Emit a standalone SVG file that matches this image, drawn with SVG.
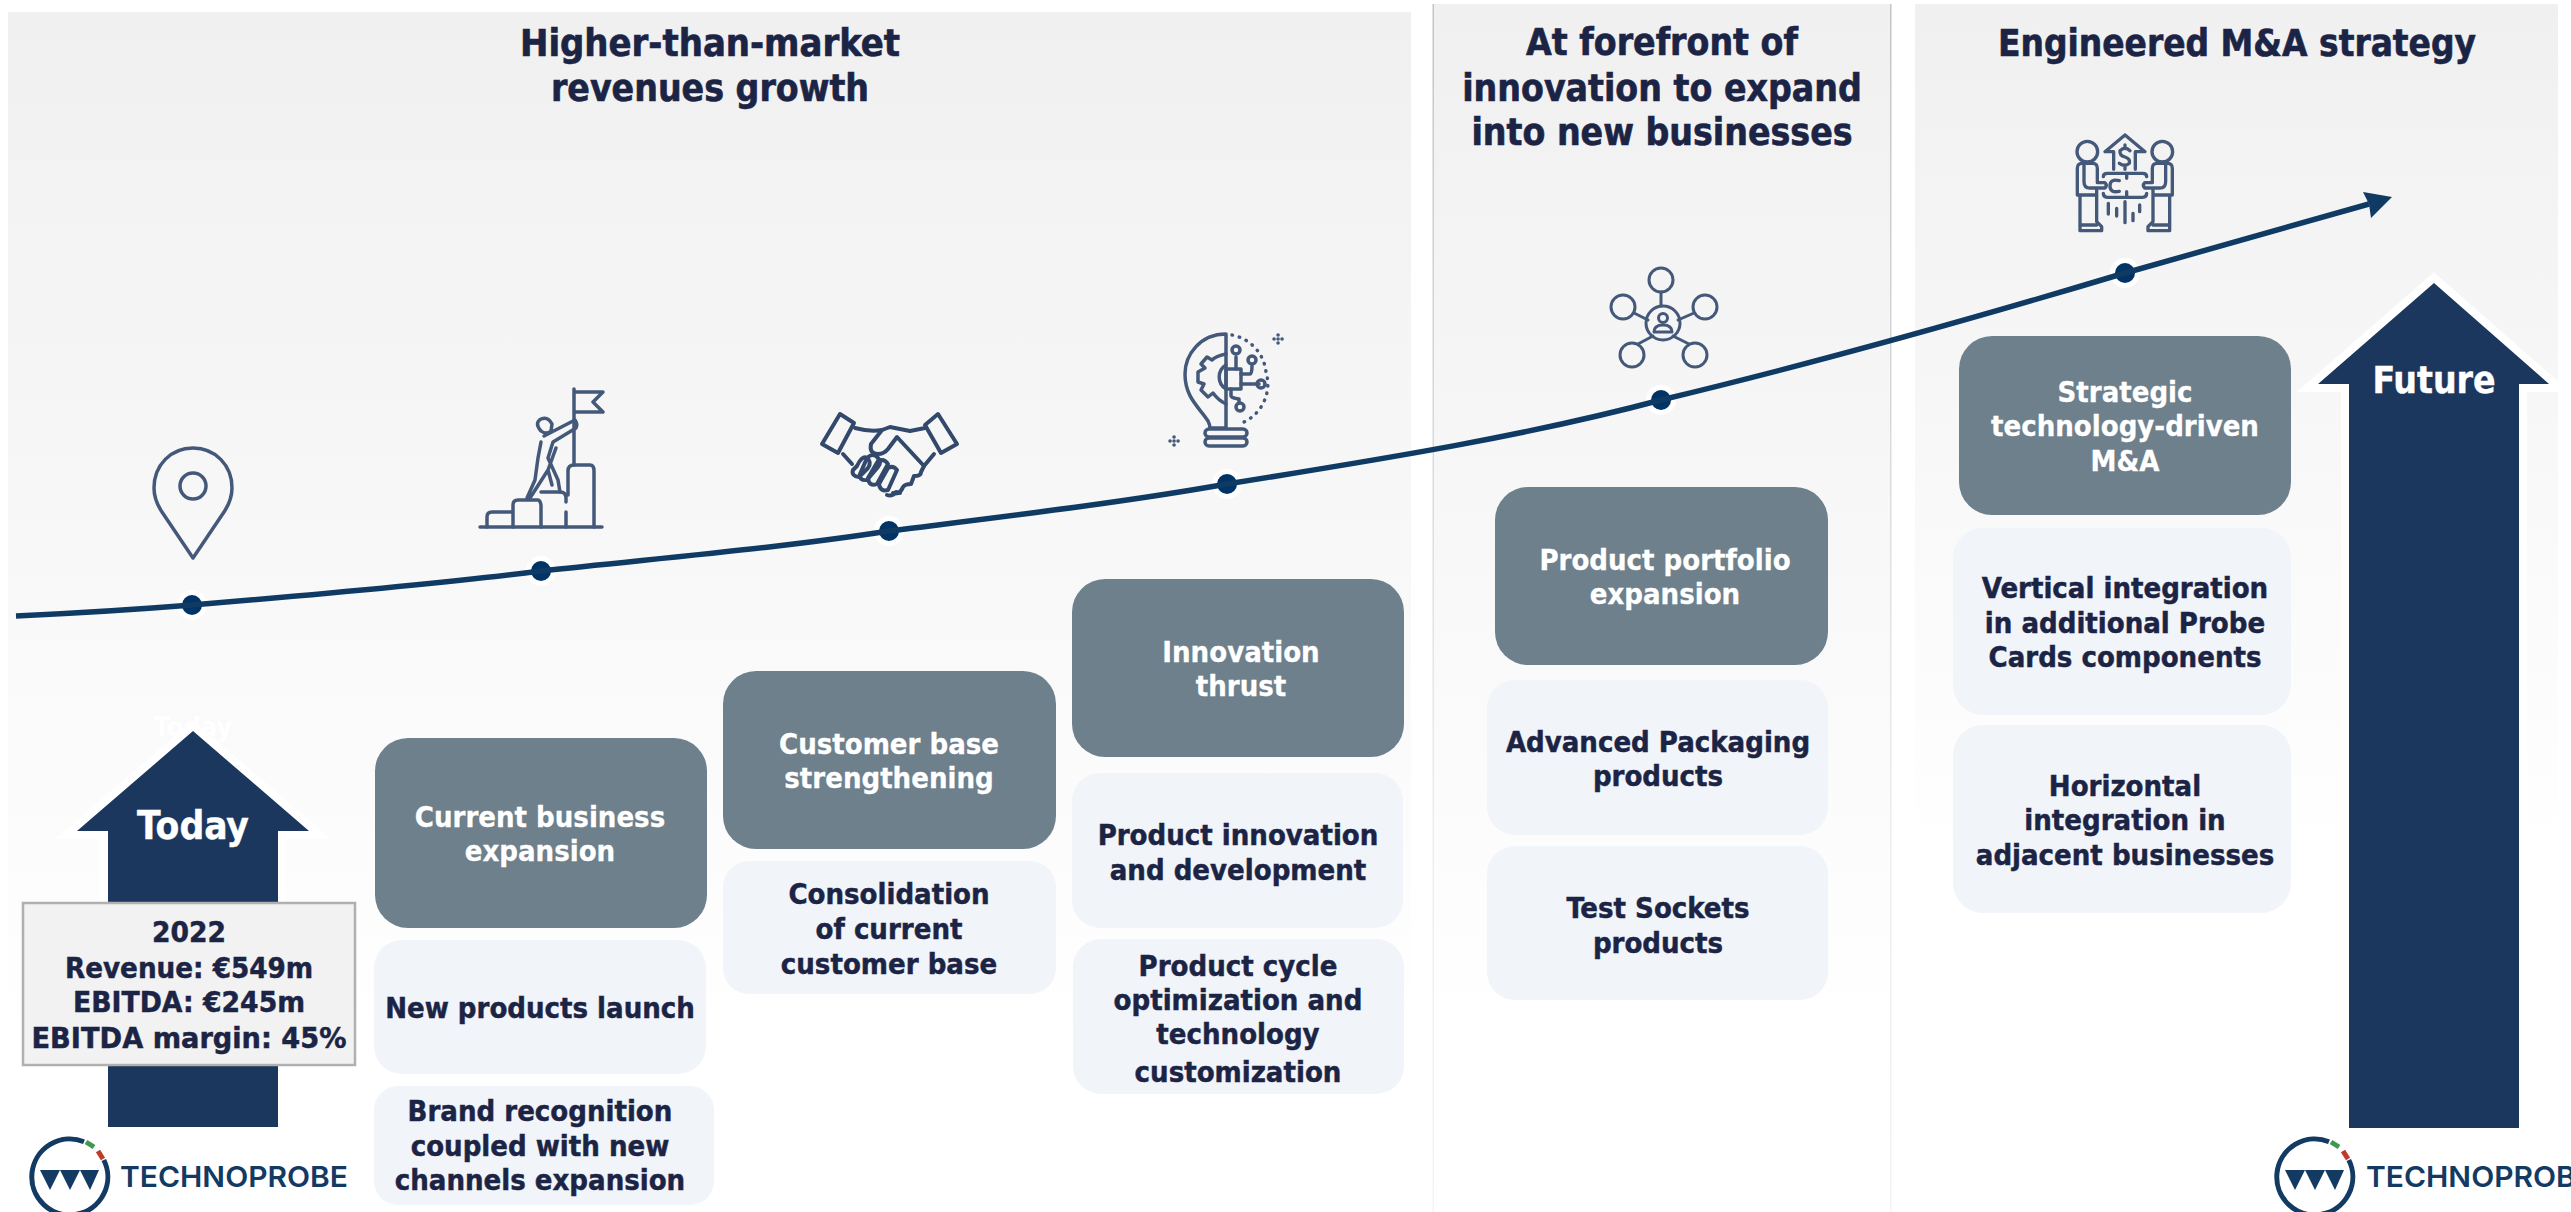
<svg xmlns="http://www.w3.org/2000/svg" width="2571" height="1212" viewBox="0 0 2571 1212">
<style>
text{font-family:"DejaVu Sans","Liberation Sans",sans-serif;font-weight:700;font-stretch:condensed;text-anchor:middle}
.t{font-size:37px;fill:#1c2445;stroke:#1c2445;stroke-width:.6}
.b{font-size:29px;fill:#1c2445;stroke:#1c2445;stroke-width:.45}
.w{font-size:29px;fill:#fff;stroke:#fff;stroke-width:.3}
.a{font-size:37px;fill:#fff;stroke:#fff;stroke-width:.4}
.hd{fill:#6e808c}
.lt{fill:#f1f4f8}
.ic{fill:none;stroke:#44597a;stroke-width:3.5;stroke-linecap:round;stroke-linejoin:round}
.halo{fill:#fff}
.dot{fill:#003366}
.lg{font-family:"Inter","Liberation Sans",sans-serif;font-weight:600;font-size:29px;fill:#123a63;text-anchor:start;font-stretch:normal;stroke:none}
.arr{fill:#1b375d;stroke:#fff;stroke-width:16;paint-order:stroke}
</style>
<defs>
<linearGradient id="bg" x1="0" y1="0" x2="0" y2="1"><stop offset="0" stop-color="#f0f0f0"/><stop offset="0.85" stop-color="#ffffff"/></linearGradient>
<linearGradient id="ln" x1="0" y1="0" x2="0" y2="1"><stop offset="0" stop-color="#c2c4c6"/><stop offset="0.7" stop-color="#eceef0"/><stop offset="1" stop-color="#f3f4f5"/></linearGradient>
<g id="logo">
<path d="M14 -35.3A38 38 0 1 0 33.8 -17" fill="none" stroke="#123a63" stroke-width="5"/>
<path d="M16 -35L24 -30" stroke="#3d9a4f" stroke-width="5" fill="none"/>
<path d="M28 -26L33 -18" stroke="#c0392b" stroke-width="5" fill="none"/>
<path d="M-30 -7H29L20 13L10 -7L0 13L-10 -7L-20 13Z" fill="#123a63"/>
</g>
</defs>
<rect width="2571" height="1212" fill="#fff"/>
<g id="panels">
<rect x="8" y="12" width="1403" height="1200" fill="url(#bg)"/>
<rect x="1433" y="4" width="458" height="1208" fill="url(#bg)"/>
<rect x="1432.5" y="4" width="1.5" height="1208" fill="url(#ln)"/>
<rect x="1890" y="4" width="1.5" height="1208" fill="url(#ln)"/>
<rect x="1915" y="4" width="643" height="1000" fill="url(#bg)"/>
</g>
<g id="titles">
<text class="t" x="710" y="56" textLength="380" lengthAdjust="spacingAndGlyphs">Higher-than-market</text>
<text class="t" x="710" y="101">revenues growth</text>
<text class="t" x="1662" y="55">At forefront of</text>
<text class="t" x="1662" y="101">innovation to expand</text>
<text class="t" x="1662" y="145">into new businesses</text>
<text class="t" x="2237" y="56" textLength="478" lengthAdjust="spacingAndGlyphs">Engineered M&amp;A strategy</text>
</g>
<g id="today-arrow">
<text x="193" y="736" style="font-size:27px;fill:#fff">Today</text>
<path class="arr" d="M193 731L309 831H278V1127H108V831H77Z"/>
<text class="a" x="193" y="839" style="font-size:38.5px">Today</text>
</g>
<g id="today-box">
<rect x="23" y="903" width="332" height="162" fill="#f2f2f2" stroke="#b0b0b0" stroke-width="2.5"/>
<text class="b" x="189" y="942" textLength="74" lengthAdjust="spacingAndGlyphs">2022</text>
<text class="b" x="189" y="978" textLength="248" lengthAdjust="spacingAndGlyphs">Revenue: €549m</text>
<text class="b" x="189" y="1012" textLength="232" lengthAdjust="spacingAndGlyphs">EBITDA: €245m</text>
<text class="b" x="189" y="1048" textLength="315" lengthAdjust="spacingAndGlyphs">EBITDA margin: 45%</text>
</g>
<g id="n1"><rect class="hd" x="375" y="738" width="332" height="190" rx="33"/><text class="w" x="540" y="827">Current business</text><text class="w" x="540" y="861">expansion</text></g>
<g id="n1a"><rect class="lt" x="374" y="940" width="332" height="134" rx="28"/><text class="b" x="540" y="1018">New products launch</text></g>
<g id="n1b"><rect class="lt" x="374" y="1086" width="340" height="119" rx="24"/><text class="b" x="540" y="1121">Brand recognition</text><text class="b" x="540" y="1156">coupled with new</text><text class="b" x="540" y="1190">channels expansion</text></g>
<g id="n2"><rect class="hd" x="723" y="671" width="333" height="178" rx="33"/><text class="w" x="889" y="754">Customer base</text><text class="w" x="889" y="788">strengthening</text></g>
<g id="n2a"><rect class="lt" x="723" y="861" width="333" height="133" rx="26"/><text class="b" x="889" y="904">Consolidation</text><text class="b" x="889" y="939">of current</text><text class="b" x="889" y="974">customer base</text></g>
<g id="n3"><rect class="hd" x="1072" y="579" width="332" height="178" rx="33"/><text class="w" x="1241" y="662">Innovation</text><text class="w" x="1241" y="696">thrust</text></g>
<g id="n3a"><rect class="lt" x="1072" y="773" width="331" height="155" rx="28"/><text class="b" x="1238" y="845">Product innovation</text><text class="b" x="1238" y="880">and development</text></g>
<g id="n3b"><rect class="lt" x="1073" y="939" width="331" height="155" rx="28"/><text class="b" x="1238" y="976">Product cycle</text><text class="b" x="1238" y="1010">optimization and</text><text class="b" x="1238" y="1044">technology</text><text class="b" x="1238" y="1082">customization</text></g>
<g id="n4"><rect class="hd" x="1495" y="487" width="333" height="178" rx="33"/><text class="w" x="1665" y="570">Product portfolio</text><text class="w" x="1665" y="604">expansion</text></g>
<g id="n4a"><rect class="lt" x="1487" y="680" width="341" height="155" rx="28"/><text class="b" x="1658" y="752">Advanced Packaging</text><text class="b" x="1658" y="786">products</text></g>
<g id="n4b"><rect class="lt" x="1487" y="846" width="341" height="154" rx="28"/><text class="b" x="1658" y="918">Test Sockets</text><text class="b" x="1658" y="953">products</text></g>
<g id="n5"><rect class="hd" x="1959" y="336" width="332" height="179" rx="33"/><text class="w" x="2125" y="402">Strategic</text><text class="w" x="2125" y="436">technology-driven</text><text class="w" x="2125" y="471">M&amp;A</text></g>
<g id="n5a"><rect class="lt" x="1953" y="528" width="338" height="187" rx="30"/><text class="b" x="2125" y="598">Vertical integration</text><text class="b" x="2125" y="633">in additional Probe</text><text class="b" x="2125" y="667">Cards components</text></g>
<g id="n5b"><rect class="lt" x="1953" y="725" width="338" height="188" rx="30"/><text class="b" x="2125" y="796">Horizontal</text><text class="b" x="2125" y="830">integration in</text><text class="b" x="2125" y="865">adjacent businesses</text></g>
<g id="connectors">
<circle class="halo" cx="192" cy="605" r="15"/><circle class="halo" cx="541" cy="571" r="15"/><circle class="halo" cx="889" cy="531" r="15"/><circle class="halo" cx="1227" cy="484" r="15"/><circle class="halo" cx="1661" cy="400" r="15"/><circle class="halo" cx="2125" cy="273" r="15"/>
<circle class="dot" cx="192" cy="605" r="10"/><circle class="dot" cx="541" cy="571" r="10"/><circle class="dot" cx="889" cy="531" r="10"/><circle class="dot" cx="1227" cy="484" r="10"/><circle class="dot" cx="1661" cy="400" r="10"/><circle class="dot" cx="2125" cy="273" r="10"/>
<path d="M16 616C80 613 130 610 192 605C300 596 430 585 541 571C660 558 780 548 889 531C1000 517 1120 503 1227 484C1390 458 1530 435 1661 400C1820 362 1985 315 2125 273C2230 243 2300 224 2369 204" fill="none" stroke="#0f3a64" stroke-width="5.5"/>
<path d="M2363 192L2392 197L2371 218L2369 204Z" fill="#0f3a64"/>
</g>
<g id="icon-pin" class="ic">
<path d="M193 558L162 512C156 503 154 496 154 488C154 465 171 448 193 448C215 448 232 465 232 488C232 496 230 503 224 512Z"/>
<circle cx="193" cy="486" r="13"/>
</g>
<g id="icon-flag" class="ic">
<path d="M480 527H602M574 389V465M574 392H603L593 402L603 412H574"/>
<path d="M487 527V517Q487 512 492 512H513M513 527V505Q513 500 518 500H538Q540 500 541 505V527"/>
<path d="M541 492H560Q566 492 566 498V502M566 512V527M568 495V471Q568 465 574 465H590Q594 465 594 471V527"/>
<path d="M541 431Q534 423 541 419Q548 416 552 424L551 431Q546 435 541 431Z"/>
<path d="M544 436L575 420Q578 424 576 428L553 442L548 458L558 480L560 492M541 442L538 458L535 480L527 498M556 448L548 470L530 498M548 470L552 485"/>
</g>
<g id="icon-hands" class="ic" style="stroke:#33496c;stroke-width:4">
<path d="M840 414L854 423L838 453L822 444Z"/>
<path d="M938 414L957 444L941 453L925 425Z"/>
<path d="M855 428Q870 432 882 430L890 427L910 431L925 428M843 454L852 464M934 454L924 466"/>
<path d="M882 430L871 444Q869 454 878 454Q884 454 888 449L897 437L924 466L921 472Q921 476 914 476L911 484Q905 484 903 487Q900 495 893 493L900 493L896 492Q892 497 887 495"/>
<path d="M857 466Q862 455 867 458Q872 462 868 468L859 477Q851 476 853 470Z"/>
<path d="M867 458Q873 452 878 458Q882 462 878 467L867 480Q859 481 860 474Z"/>
<path d="M878 461Q884 458 888 464L877 484Q869 487 868 478Z"/>
<path d="M888 468Q893 465 897 470L888 490Q880 492 879 484Z"/>
</g>
<g id="icon-bulb" class="ic">
<path d="M1226 334C1200 334 1185 355 1185 374C1185 398 1200 408 1208 421Q1210 425 1210 428H1226V334"/>
<rect x="1205" y="429" width="42" height="8" rx="4"/>
<rect x="1205" y="438" width="42" height="8" rx="4"/>
<path d="M1226 365A14 14 0 0 0 1226 389"/>
<path d="M1226 354Q1216 356 1212 360L1207 357L1201 364L1205 368L1198 372L1198 382L1204 384L1201 390L1208 397L1213 393Q1218 400 1226 404"/>
<rect x="1226" y="369" width="15" height="20"/>
<path d="M1236 369V357M1241 374H1250Q1252 374 1252 366M1241 384H1259M1231 389V396Q1231 398 1239 399V403"/>
<circle cx="1236" cy="350" r="4"/><circle cx="1252" cy="360" r="4"/><circle cx="1261" cy="384" r="4"/><circle cx="1240" cy="407" r="4"/>
<path d="M1232 335A42 42 0 0 1 1266 372A42 42 0 0 1 1244 422" stroke-dasharray="0.5 7"/>
<path d="M1278 339h.1M1274 339h.1M1282 339h.1M1278 335h.1M1278 343h.1M1174 441h.1M1170 441h.1M1178 441h.1M1174 437h.1M1174 445h.1"/>
</g>
<g id="icon-net" class="ic" style="stroke-width:3">
<circle cx="1661" cy="280" r="12"/><circle cx="1623" cy="307" r="12"/><circle cx="1705" cy="307" r="12"/><circle cx="1632" cy="355" r="12"/><circle cx="1695" cy="355" r="12"/>
<circle cx="1663" cy="323" r="17"/>
<path d="M1661 292V306M1634 313L1648 320M1694 313L1678 320M1638 344L1653 336M1689 344L1673 336"/>
<circle cx="1663" cy="318" r="4.5"/><path d="M1654 332Q1654 325 1663 325Q1672 325 1672 332Z"/>
</g>
<g id="icon-ma" transform="translate(2060 110) scale(.3333)" style="fill:none;stroke:#44597a;stroke-width:10;stroke-linecap:round;stroke-linejoin:round">
<g id="ma-person">
<circle cx="82" cy="125" r="31"/>
<path d="M66 160H98Q112 160 112 175V218H135Q143 226 135 234H90Q72 234 72 215V165M66 160Q52 160 52 175V255H110V335L125 350V362H60V255M60 345H110M110 255V240"/>
</g>
<use href="#ma-person" transform="translate(389 0) scale(-1 1)"/>
<path d="M195 75L255 125H226V178M195 75L135 125H161V178"/>
<path d="M210 122Q195 108 180 122Q178 136 195 141Q212 147 208 160Q195 172 178 160M195 105V112M195 170V178"/>
<path d="M130 200Q130 190 142 190H248Q260 190 260 200M130 250Q130 262 142 262H248Q260 262 260 250M200 190V205M200 245V262M178 212Q150 205 150 228Q150 250 178 244"/>
<path d="M145 280V312M170 295V318M195 275V338M219 310V332M239 285V305"/>
</g>
<g id="future-arrow">
<path class="arr" d="M2434 283L2549 384H2519V1128H2349V384H2318Z"/>
<text class="a" x="2434" y="393">Future</text>
</g>
<g id="logos">
<use href="#logo" x="70" y="1177"/>
<text class="lg" x="120" y="1187" textLength="228" lengthAdjust="spacingAndGlyphs">TECHNOPROBE</text>
<use href="#logo" x="2315" y="1177"/>
<text class="lg" x="2366" y="1187" textLength="228" lengthAdjust="spacingAndGlyphs">TECHNOPROBE</text>
</g>
</svg>
